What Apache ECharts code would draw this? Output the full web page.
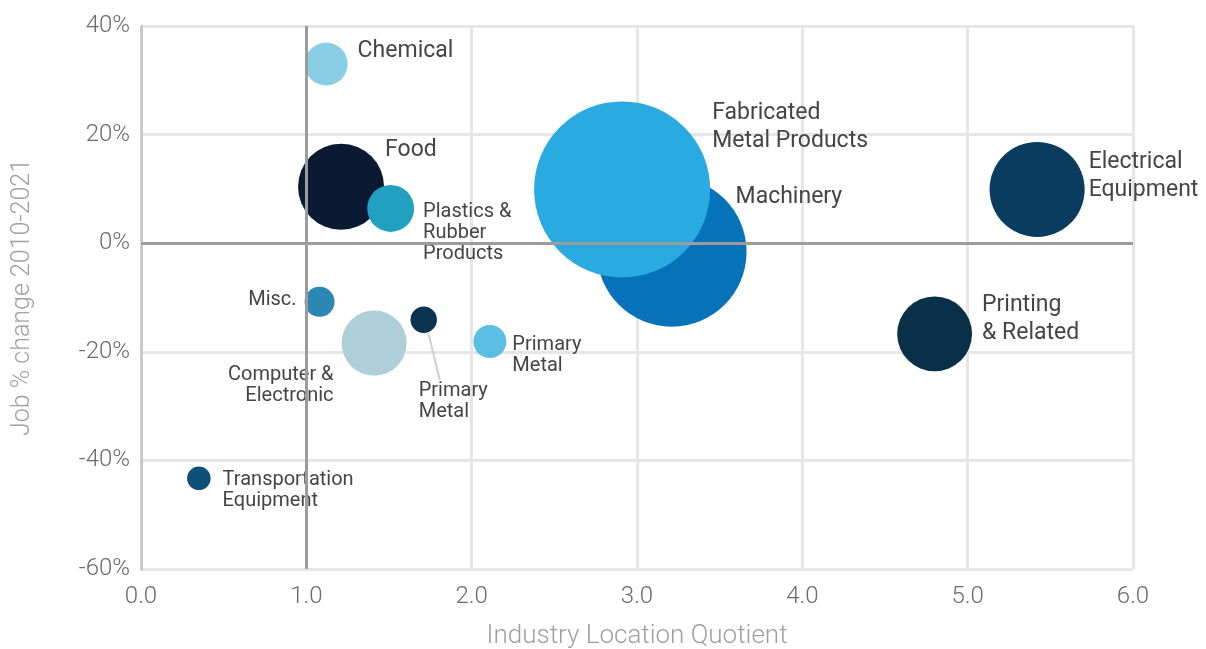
<!DOCTYPE html>
<html>
<head>
<meta charset="utf-8">
<title>Industry Location Quotient</title>
<script src="https://cdn.jsdelivr.net/npm/echarts@6/dist/echarts.min.js"></script>
<style>
    html, body {margin: 0; padding: 0; background: #fff;}
    #bubble {width: 1206px; height: 649px;}
</style>
</head>
<body>
<div id="bubble"></div>
<script>
// 行业名称（按绘制顺序，后面的压在上面）
var industries = ['Machinery', 'Fabricated Metal Products', 'Electrical Equipment', 'Printing & Related',
    'Food', 'Plastics & Rubber Products', 'Chemical', 'Misc.', 'Computer & Electronic',
    'Primary Metal', 'Primary Metal', 'Transportation Equipment'];
// 图上的文字（换行）
var labelText = ['Machinery', 'Fabricated\nMetal Products', 'Electrical\nEquipment', 'Printing\n& Related',
    'Food', 'Plastics &\nRubber\nProducts', 'Chemical', 'Misc.', 'Computer &\nElectronic',
    'Primary\nMetal', 'Primary\nMetal', 'Transportation\nEquipment'];
// x：区位商
var locationQuotient = [3.21, 2.91, 5.42, 4.80, 1.21, 1.51, 1.12, 1.08, 1.41, 1.71, 2.11, 0.35];
// y：2010-2021 就业变化 %
var jobChange = [-1.6, 9.9, 9.9, -16.7, 10.4, 6.4, 33.0, -10.8, -18.4, -14.1, -18.1, -43.3];
// 气泡大小（就业规模，相对值）
var employment = [5600, 7750, 2260, 1400, 1850, 550, 460, 225, 1060, 175, 272, 138];
// 颜色
var colors = ['#0672b9', '#29aae1', '#0a3c5f', '#0a3049', '#0b1a33', '#21a0c0', '#8ccde6',
    '#2b88b5', '#aecfd9', '#0a3350', '#5bbfe3', '#0d5077'];
// 刻度
var xTicks = [0, 1, 2, 3, 4, 5, 6];
var yTicks = [-60, -40, -20, 0, 20, 40];

var FONT = 'Roboto, "Noto Sans", sans-serif';

// 标签位置（样式，不是数据）
var big = {fontSize: 23, lineHeight: 28};
var small = {fontSize: 20, lineHeight: 21};
var labelOpts = [
    {position: 'right', distance: 0, offset: [-11, -55], size: big},
    {position: 'right', distance: 2, offset: [0, -62], size: big},
    {position: 'right', distance: 4, offset: [0, -13], size: big},
    {position: 'right', distance: 10, offset: [0, -15], size: big},
    {position: 'right', distance: 1, offset: [0, -36], size: big},
    {position: 'right', distance: 9, offset: [0, 25], size: small},
    {position: 'right', distance: 10, offset: [0, -13], size: big},
    {position: 'left', distance: 8, offset: [0, -2], size: small},
    {position: 'left', distance: 8, offset: [0, 42], size: small},
    {position: 'bottom', distance: 48, offset: [-5, 0], align: 'left', size: small},
    {position: 'right', distance: 6, offset: [0, 14], size: small},
    {position: 'right', distance: 12, offset: [0, 12], size: small}
];

function bubbleSize(v) {
    return 2 * Math.sqrt(v);
}

var points = industries.map(function (name, i) {
    var o = labelOpts[i];
    return {
        name: name,
        value: [locationQuotient[i], jobChange[i], employment[i]],
        itemStyle: {color: colors[i], opacity: 1},
        label: {
            show: true,
            formatter: labelText[i],
            position: o.position,
            distance: o.distance,
            offset: o.offset,
            align: o.align,
            color: '#454545',
            fontFamily: FONT,
            fontSize: o.size.fontSize,
            lineHeight: o.size.lineHeight
        }
    };
});

var myChart = echarts.init(document.getElementById('bubble'), null, {renderer: 'canvas'});
myChart.setOption({
    backgroundColor: '#fff',
    animation: false,
    grid: {left: 141, right: 73, top: 26, bottom: 80, outerBoundsMode: 'none'},
    xAxis: {
        type: 'value',
        min: xTicks[0],
        max: xTicks[xTicks.length - 1],
        interval: 1,
        name: 'Industry Location Quotient',
        nameLocation: 'middle',
        nameGap: 54,
        nameTextStyle: {color: '#a0a0a0', fontSize: 26, fontWeight: 300, fontFamily: FONT},
        axisLine: {show: true, lineStyle: {color: '#e6e6e6', width: 3}},
        axisTick: {show: false},
        axisLabel: {
            color: '#6b6b6b', fontSize: 24, fontWeight: 300, fontFamily: FONT, margin: 16,
            formatter: function (v) { return v.toFixed(1); }
        },
        splitLine: {show: true, lineStyle: {color: '#e6e6e6', width: 3}}
    },
    yAxis: {
        type: 'value',
        min: yTicks[0],
        max: yTicks[yTicks.length - 1],
        interval: 20,
        name: 'Job % change 2010-2021',
        nameLocation: 'middle',
        nameGap: 106,
        nameTextStyle: {color: '#a0a0a0', fontSize: 25, fontWeight: 300, fontFamily: FONT},
        axisLine: {show: true, onZero: false, lineStyle: {color: '#cacaca', width: 3}},
        axisTick: {show: false},
        axisLabel: {
            color: '#6b6b6b', fontSize: 24, fontWeight: 300, fontFamily: FONT, margin: 11,
            formatter: '{value}%'
        },
        splitLine: {show: true, lineStyle: {color: '#e6e6e6', width: 3}}
    },
    series: [
        {
            // 参考线 x=1, y=0
            type: 'line',
            data: [],
            z: 1,
            silent: true,
            markLine: {
                silent: true,
                symbol: 'none',
                animation: false,
                label: {show: false},
                lineStyle: {color: '#9c9c9c', width: 3, type: 'solid'},
                data: [{xAxis: 1}, {yAxis: 0}]
            }
        },
        {
            // Primary Metal 的引线
            type: 'custom',
            z: 2,
            silent: true,
            data: [[locationQuotient[9], jobChange[9]]],
            renderItem: function (params, api) {
                var p = api.coord([api.value(0), api.value(1)]);
                return {
                    type: 'line',
                    shape: {x1: p[0] + 4.5, y1: p[1] + 13, x2: p[0] + 16, y2: p[1] + 60},
                    style: {stroke: '#cfcfcf', lineWidth: 2}
                };
            }
        },
        {
            type: 'scatter',
            z: 3,
            symbolSize: function (d) { return bubbleSize(d[2]); },
            data: points
        }
    ]
});
</script>
</body>
</html>
